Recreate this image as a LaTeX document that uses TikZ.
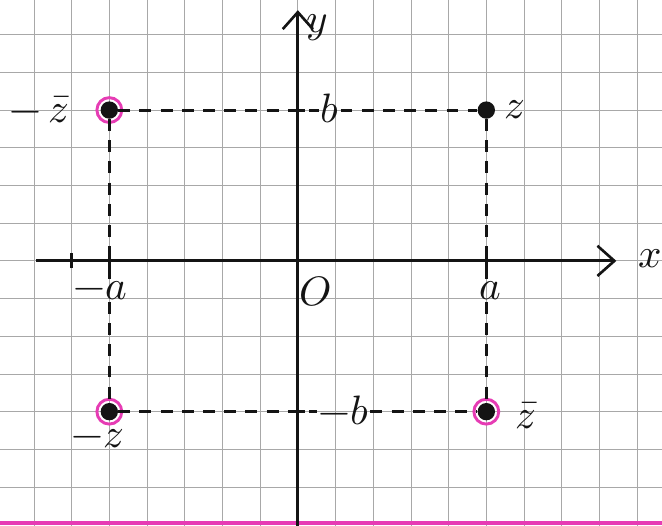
\documentclass[tikz,border=0pt]{standalone}
\usepackage{amsmath}
\usepackage{unicode-math}
\usepackage{xcolor}
\usepackage{tikz}
\usetikzlibrary{positioning,arrows.meta,calc}
\definecolor{figink}{HTML}{141414}
\definecolor{figgrid}{HTML}{A8A8A8}
\definecolor{figpink}{HTML}{E63CB4}

\begin{document}
\begin{tikzpicture}[
  font=\fontsize{31}{33}\selectfont,
  gridln/.style={figgrid, line width=0.6pt},
  ax/.style={figink, line width=2.2pt},
  axarr/.style={ax, -{Straight Barb[length=4.5mm, width=8mm, line width=2pt]}},
  dsh/.style={figink, line width=2.2pt, dash pattern=on 9pt off 7pt},
  pt/.style={circle, fill=figink, inner sep=0pt, minimum size=4.6mm},
  hl/.style={circle, draw=figpink, line width=2.2pt, inner sep=0pt, minimum size=6.6mm},
  lbl/.style={text=figink, inner sep=1pt},
]
\useasboundingbox (-7.9,-7.03) rectangle (9.66,6.92);
% Grid paper
\draw[gridln] (-7.9,-7.03) grid (9.66,6.92);
\draw[figpink, line width=3pt] (-7.9,-6.96) -- (9.66,-6.96);
% Axes
\coordinate (xs) at (-6.95,0);
\coordinate (xe) at (8.45,0);
\coordinate (ys) at (0,-7.03);
\coordinate (ye) at (0,6.65);
\draw[axarr] (xs) -- (xe);
\draw[axarr] (ys) -- (ye);
\node[lbl] (xl) at (9.35,0.05) {$x$};
\node[lbl, anchor=west] (yl) at (0.2,6.2) {$y$};
\node[lbl] (o) at (0.45,-0.8) {$O$};
% Ticks
\foreach \t in {-6,-5,5}
  \draw[ax] (\t,-0.2) -- (\t,0.2);
\foreach \t in {-4,4}
  \draw[ax] (-0.2,\t) -- (0.2,\t);
% Points
\node[pt] (z) at (5,4) {};
\node[pt] (mzb) at (-5,4) {};
\node[pt] (mz) at (-5,-4) {};
\node[pt] (zb) at (5,-4) {};
\node[hl] (hmzb) at (mzb) {};
\node[hl] (hmz) at (mz) {};
\node[hl] (hzb) at (zb) {};
% Labels
\node[lbl, right=2mm of z] (lz) {$z$};
\node[lbl, right=5mm of zb, yshift=-1mm] (lzb) {$\bar z$};
\node[lbl, left=8mm of mzb] (lmzb) {$-\,\bar z$};
\node[lbl, below=2mm of mz, xshift=-3mm] (lmz) {$-z$};
\node[lbl] (lb) at (0.85,4.05) {$b$};
\node[lbl] (lmb) at (1.22,-3.98) {$-b$};
\node[lbl] (la) at (5.1,-0.8) {$a$};
\node[lbl] (lma) at (-5.25,-0.8) {$-a$};
% Dashed guides
\draw[dsh] (mzb) -- (lb.west |- mzb);
\draw[dsh] (lb.east |- z) -- (z);
\draw[dsh] (mz) -- (lmb.west |- mz);
\draw[dsh] (lmb.east |- zb) -- (zb);
\draw[dsh] (mzb) -- (mzb |- lma.north);
\draw[dsh] (mzb |- lma.south) -- (mz);
\draw[dsh] (z) -- (z |- la.north);
\draw[dsh] (z |- la.south) -- (zb);
\end{tikzpicture}
\end{document}
